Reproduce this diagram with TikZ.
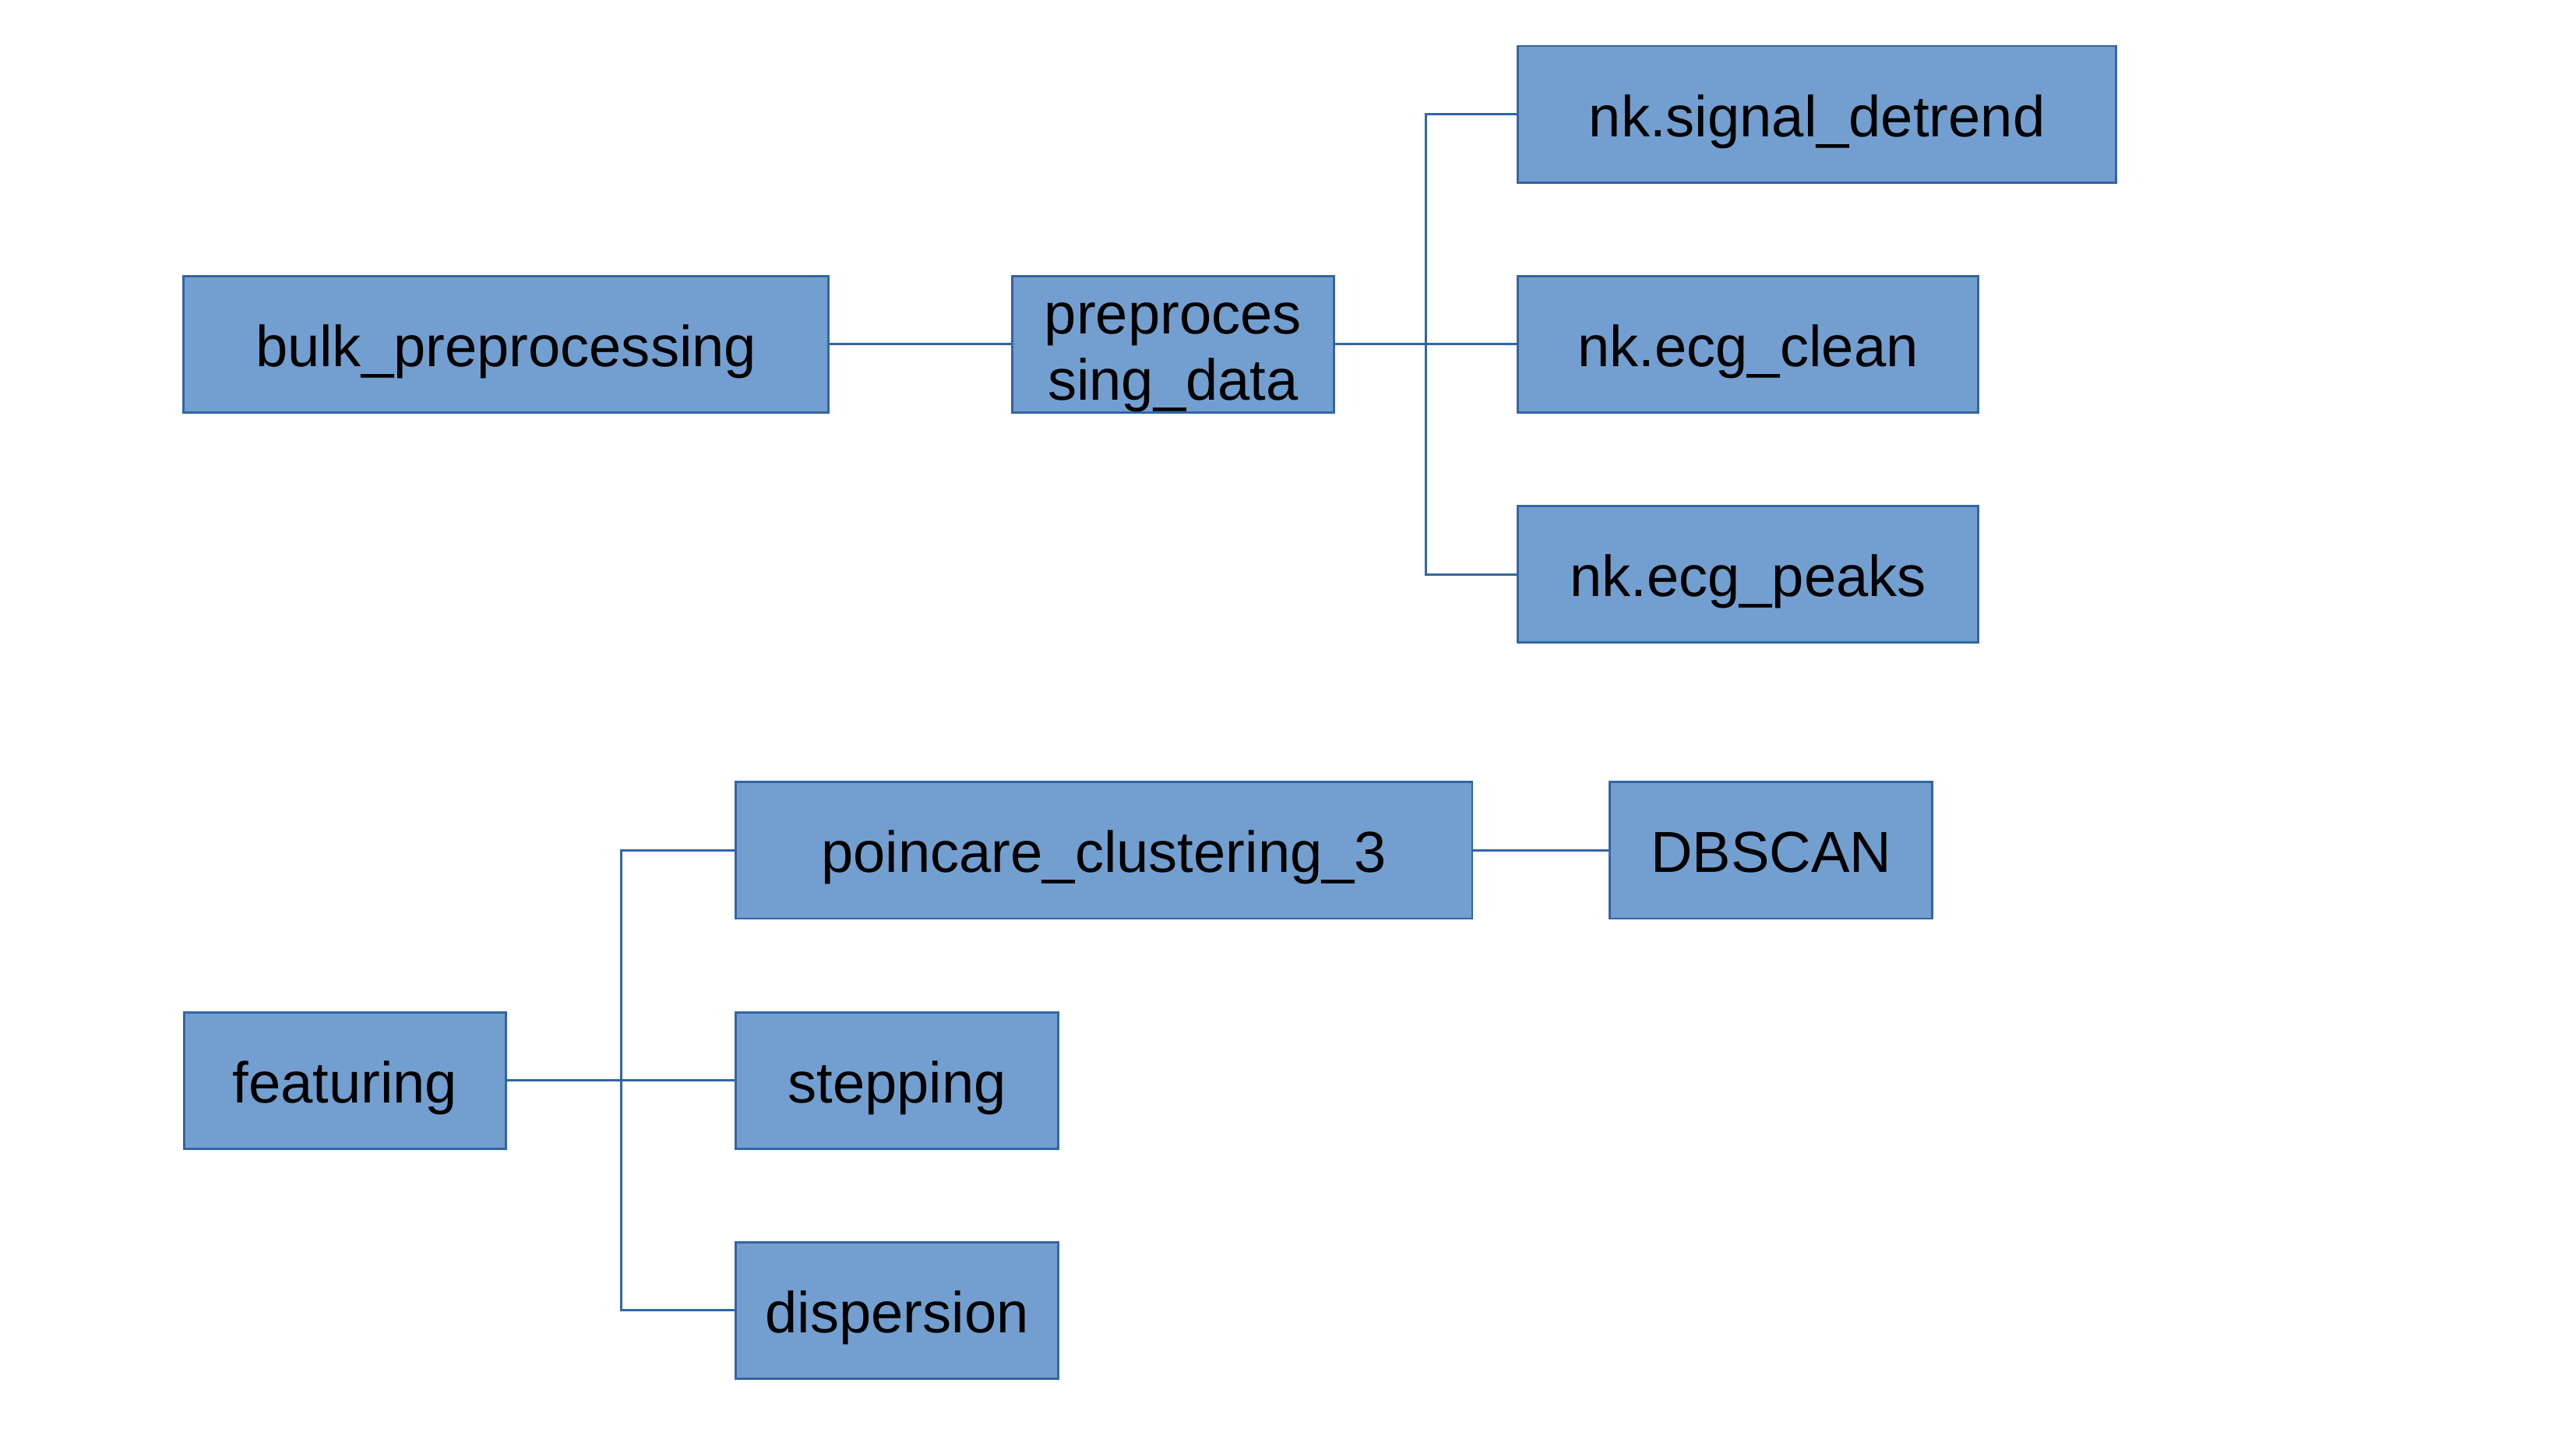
\documentclass[tikz,border=0pt]{standalone}
\usepackage{fontspec}
\setmainfont{Liberation Sans}
\definecolor{boxfill}{RGB}{114,159,207}
\definecolor{boxline}{RGB}{52,101,164}
\begin{document}
\begin{tikzpicture}[x=0.01cm,y=-0.01cm,
  box/.style={draw=boxline,fill=boxfill,line width=0.4pt,inner sep=0pt,align=center,
    font=\fontsize{10}{11.4}\selectfont,text height=9.8pt,text depth=2.1pt},
  link/.style={draw=boxline,line width=0.4pt}]
\useasboundingbox (0,0) rectangle (1568,882);
\node[box,minimum width=3.92cm,minimum height=0.83cm] (bulk) at (308,209.5) {bulk\_preprocessing};
\node[box,minimum width=1.96cm,minimum height=0.83cm,
  label={[font=\fontsize{10}{11.4}\selectfont,align=center,inner sep=0pt,yshift=-2.3pt]center:preproces\\sing\_data}] (prep) at (714,209.5) {};
\node[box,minimum width=3.64cm,minimum height=0.83cm] (detrend) at (1106,69.5) {nk.signal\_detrend};
\node[box,minimum width=2.80cm,minimum height=0.83cm] (clean) at (1064,209.5) {nk.ecg\_clean};
\node[box,minimum width=2.80cm,minimum height=0.83cm] (peaks) at (1064,349.5) {nk.ecg\_peaks};
\node[box,minimum width=4.48cm,minimum height=0.83cm] (poinc) at (672,517.5) {poincare\_clustering\_3};
\node[box,minimum width=1.96cm,minimum height=0.83cm] (dbscan) at (1078,517.5) {DBSCAN};
\node[box,minimum width=1.96cm,minimum height=0.83cm] (feat) at (210,657.5) {featuring};
\node[box,minimum width=1.96cm,minimum height=0.83cm] (step) at (546,657.5) {stepping};
\node[box,minimum width=1.96cm,minimum height=0.83cm] (disp) at (546,797.5) {dispersion};
\coordinate (busA) at (868,209.5);
\coordinate (busB) at (378,657.5);
\draw[link] (bulk.east) -- (prep.west);
\draw[link] (prep.east) -- (clean.west);
\draw[link] (detrend.west) -| (busA) |- (peaks.west);
\draw[link] (feat.east) -- (step.west);
\draw[link] (poinc.west) -| (busB) |- (disp.west);
\draw[link] (poinc.east) -- (dbscan.west);
\end{tikzpicture}
\end{document}
